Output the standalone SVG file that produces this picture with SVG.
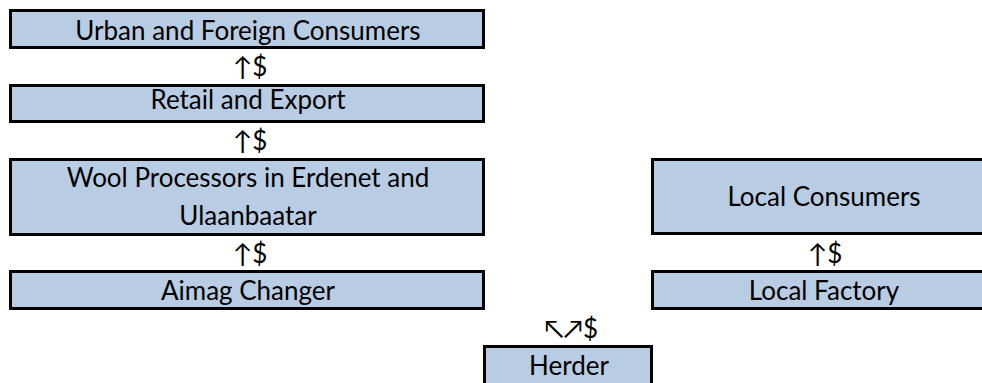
<svg xmlns="http://www.w3.org/2000/svg" width="982" height="383" viewBox="0 0 982 383">
  <style>
    .box { fill: #B8CCE4; stroke: #000; stroke-width: 3; }
    .lbl { font-family: Lato, "Liberation Sans", sans-serif; font-size: 26px; fill: #000; text-anchor: middle; }
  </style>
  <rect width="982" height="383" fill="#fff"/>

  <g id="urban-foreign-consumers">
    <rect class="box" x="10.5" y="10.5" width="473" height="37"/>
    <text class="lbl" x="248" y="40">Urban and Foreign Consumers</text>
  </g>
  <g id="retail-export">
    <rect class="box" x="10.5" y="85.5" width="473" height="36"/>
    <text class="lbl" x="248" y="109">Retail and Export</text>
  </g>
  <g id="wool-processors">
    <rect class="box" x="10.5" y="159.5" width="473" height="75"/>
    <text class="lbl" x="248" y="187">Wool Processors in Erdenet and</text>
    <text class="lbl" x="248" y="225">Ulaanbaatar</text>
  </g>
  <g id="aimag-changer">
    <rect class="box" x="10.5" y="271.5" width="473" height="37"/>
    <text class="lbl" x="248" y="300">Aimag Changer</text>
  </g>
  <g id="local-consumers">
    <rect class="box" x="652.5" y="159.5" width="345" height="74"/>
    <text class="lbl" x="824" y="206">Local Consumers</text>
  </g>
  <g id="local-factory">
    <rect class="box" x="652.5" y="271.5" width="345" height="37"/>
    <text class="lbl" x="824" y="300">Local Factory</text>
  </g>
  <g id="herder">
    <rect class="box" x="484.5" y="346.5" width="167" height="40"/>
    <text class="lbl" x="569" y="375">Herder</text>
  </g>

  <!-- money flows between the stages -->
  <g id="connectors">
    <text class="lbl" x="250" y="76">↑$</text>
    <text class="lbl" x="250" y="150">↑$</text>
    <text class="lbl" x="250" y="263">↑$</text>
    <text class="lbl" x="825" y="263">↑$</text>
    <text class="lbl" x="571" y="338">↖↗$</text>
  </g>
</svg>
